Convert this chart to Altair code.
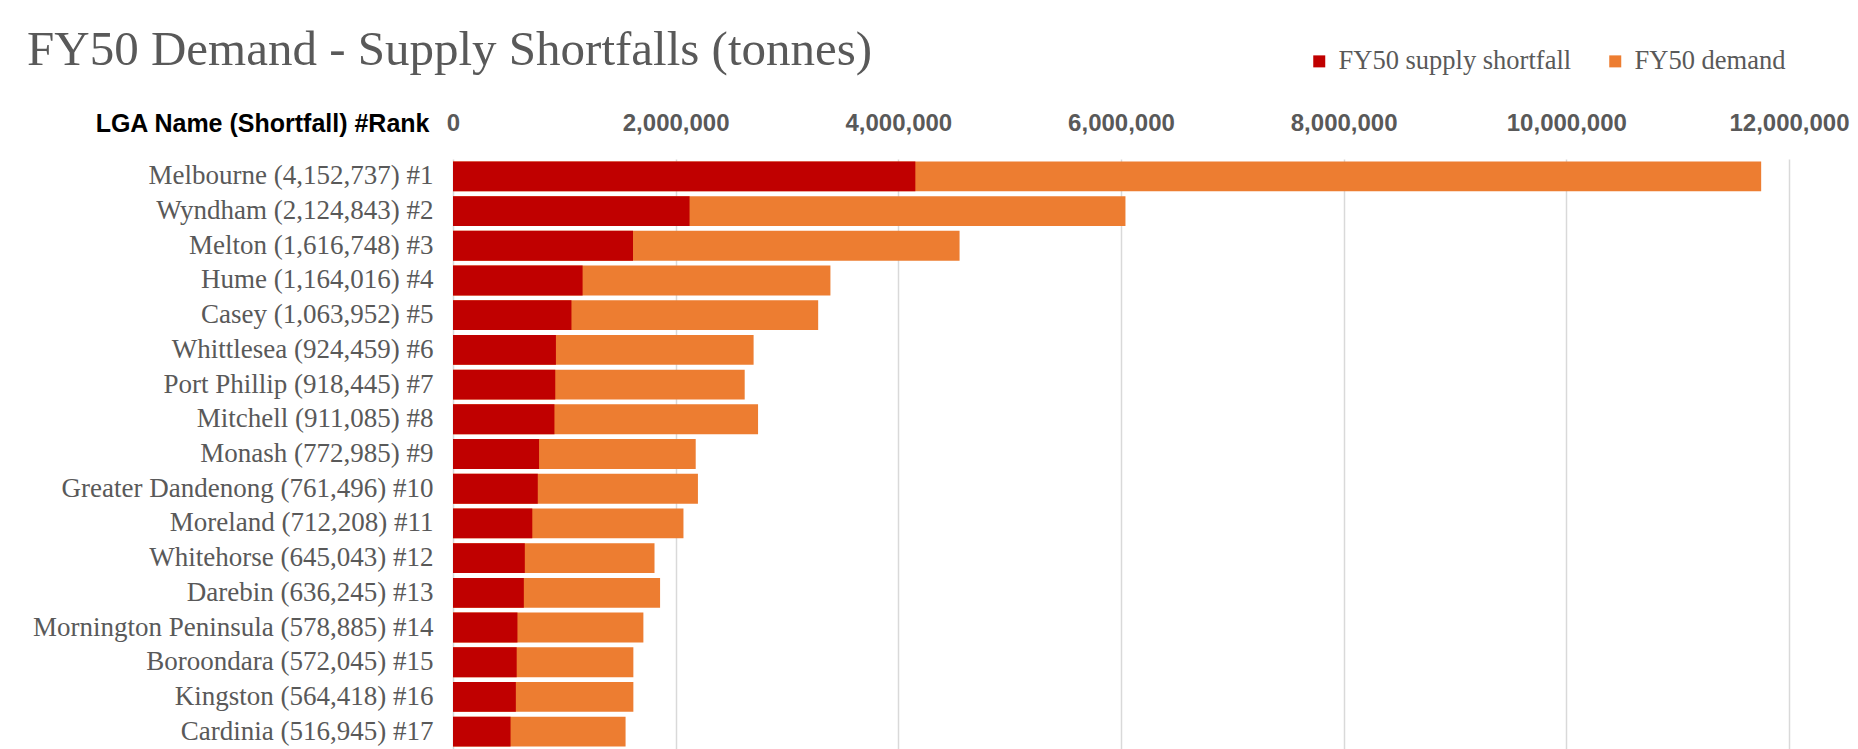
import altair as alt
import pandas as pd

lga = ["Melbourne", "Wyndham", "Melton", "Hume", "Casey", "Whittlesea",
       "Port Phillip", "Mitchell", "Monash", "Greater Dandenong", "Moreland",
       "Whitehorse", "Darebin", "Mornington Peninsula", "Boroondara",
       "Kingston", "Cardinia"]
shortfall = [4152737, 2124843, 1616748, 1164016, 1063952, 924459, 918445,
             911085, 772985, 761496, 712208, 645043, 636245, 578885, 572045,
             564418, 516945]
demand = [11750000, 6040000, 4550000, 3390000, 3280000, 2700000, 2620000,
          2740000, 2180000, 2200000, 2070000, 1810000, 1860000, 1710000,
          1620000, 1620000, 1550000]
series_names = ["FY50 supply shortfall", "FY50 demand"]
series_colors = ["#C00000", "#ED7D31"]
x_ticks = [0, 2000000, 4000000, 6000000, 8000000, 10000000, 12000000]

labels = [f"{n} ({s:,}) #{i + 1}" for i, (n, s) in enumerate(zip(lga, shortfall))]

rows = []
for lab, d in zip(labels, demand):
    rows.append({"label": lab, "series": series_names[1], "value": d, "z": 0})
for lab, s in zip(labels, shortfall):
    rows.append({"label": lab, "series": series_names[0], "value": s, "z": 1})
df = pd.DataFrame(rows)

SERIF = "Liberation Serif"
SANS = "Liberation Sans"
GREY = "#595959"

chart = alt.Chart(
    df,
    title=alt.TitleParams(
        "FY50 Demand - Supply Shortfalls (tonnes)",
        anchor="start", frame="group", font=SERIF, fontSize=49,
        fontWeight="normal", color=GREY, dx=-426, offset=0,
        baseline="alphabetic", dy=66,
    ),
).mark_bar().encode(
    y=alt.Y(
        "label:N", sort=labels,
        scale=alt.Scale(paddingInner=0.14, paddingOuter=0.07),
        axis=alt.Axis(
            title="LGA Name  (Shortfall)  #Rank", titleAngle=0,
            titleAlign="right", titleBaseline="middle", titleX=-24, titleY=-36,
            titleFont=SANS, titleFontSize=25, titleFontWeight="bold",
            titleColor="#000000",
            labelFont=SERIF, labelFontSize=27, labelColor=GREY,
            labelPadding=20, labelLimit=600, domain=False, ticks=False,
        ),
    ),
    x=alt.X(
        "value:Q", stack=None,
        scale=alt.Scale(domain=[0, 12000000], nice=False),
        axis=alt.Axis(
            orient="top", values=x_ticks, format=",d", title=None,
            labelFont=SANS, labelFontSize=24, labelFontWeight="bold",
            labelColor=GREY, labelPadding=24, labelFlush=False,
            labelOverlap=False, domain=False, ticks=False,
            grid=True, gridColor="#D9D9D9", gridWidth=1.5,
        ),
    ),
    color=alt.Color(
        "series:N",
        scale=alt.Scale(domain=series_names, range=series_colors),
        legend=alt.Legend(
            title=None, orient="none", legendX=853, legendY=-111,
            direction="horizontal", symbolType="square", symbolSize=144,
            symbolStrokeWidth=0, labelFont=SERIF, labelFontSize=26.5,
            labelColor=GREY, labelOffset=6, columnPadding=30, padding=0,
            labelLimit=500,
        ),
    ),
    order=alt.Order("z:Q"),
).properties(
    width=1336, height=590,
    autosize=alt.AutoSizeParams(type="none"),
    padding={"left": 445, "top": 151, "right": 61, "bottom": 0},
    background="white",
).configure_view(stroke=None)

chart.save("out.html", embed_options={"renderer": "svg", "actions": False})
